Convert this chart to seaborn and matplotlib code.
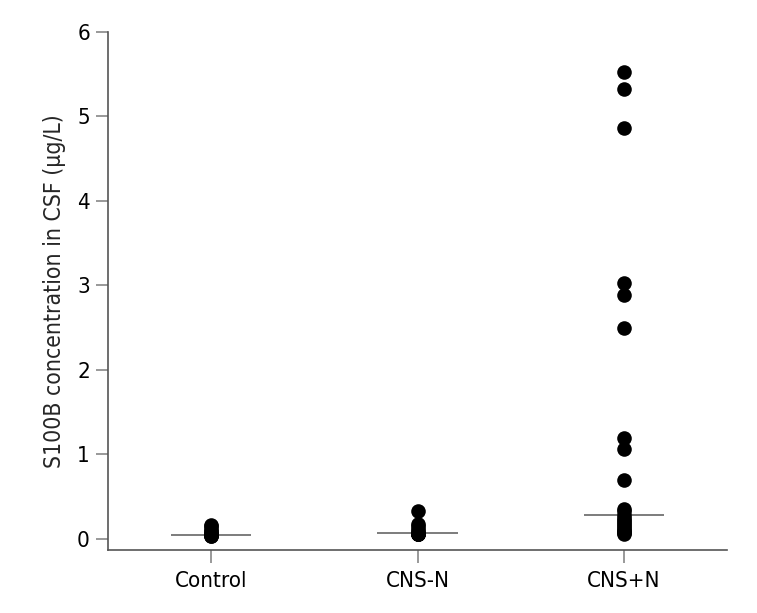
import pandas as pd
import seaborn as sns
import matplotlib.pyplot as plt

# Values (S100B in CSF, ug/L)
groups = ['Control', 'CNS-N', 'CNS+N']
control = [0.17, 0.15, 0.12, 0.10, 0.08, 0.06, 0.05, 0.05, 0.05, 0.05, 0.05, 0.04, 0.04]
cns_minus = [0.33, 0.18, 0.15, 0.12, 0.09, 0.07, 0.06, 0.06, 0.06, 0.06, 0.06]
cns_plus = [5.53, 5.32, 4.86, 3.03, 2.89, 2.50, 1.20, 1.07, 0.70, 0.36, 0.33,
            0.28, 0.25, 0.22, 0.20, 0.18, 0.15, 0.13, 0.11, 0.09, 0.08, 0.07, 0.06]
y_ticks = [0, 1, 2, 3, 4, 5, 6]

df = pd.DataFrame({
    'group': [groups[0]] * len(control) + [groups[1]] * len(cns_minus) + [groups[2]] * len(cns_plus),
    'value': control + cns_minus + cns_plus,
})

sns.set_style('white')
plt.rcParams['font.family'] = ['Liberation Sans Narrow', 'DejaVu Sans']
plt.rcParams['font.stretch'] = 'condensed'

fig = plt.figure(figsize=(7.57, 6.13), dpi=100)
ax = fig.add_axes([0.1427, 0.1028, 0.8177, 0.845])

# median line only
sns.boxplot(data=df, x='group', y='value', order=groups, width=0.39,
            showbox=False, showcaps=False, showfliers=False,
            whiskerprops={'visible': False},
            medianprops={'color': '#666666', 'linewidth': 1.2}, ax=ax)
sns.stripplot(data=df, x='group', y='value', order=groups, jitter=False,
              color='black', size=10.5, linewidth=0, ax=ax, zorder=3)

ax.set_xlim(-0.5, 2.5)
ax.set_ylim(-0.13, 6)
ax.set_yticks(y_ticks)
ax.set_xlabel('')
ax.set_ylabel('S100B concentration in CSF (μg/L)', fontsize=16.5, labelpad=8)

for s in ['top', 'right']:
    ax.spines[s].set_visible(False)
for s in ['left', 'bottom']:
    ax.spines[s].set_color('#555555')
    ax.spines[s].set_linewidth(1.2)
ax.spines['left'].set_bounds(-0.13, 6)

ax.tick_params(axis='both', direction='out', length=9, width=1.2, color='#888888',
               labelsize=16, labelcolor='black', pad=4)
ax.tick_params(axis='x', pad=6)
ax.tick_params(left=True, bottom=True)

fig.savefig('out.png', dpi=100)
